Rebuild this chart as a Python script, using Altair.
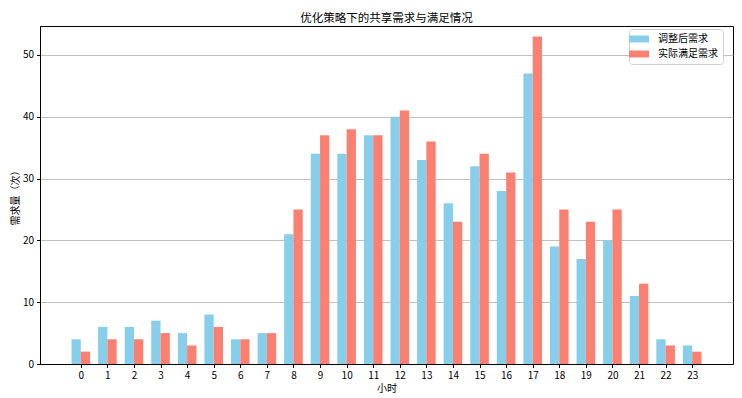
import altair as alt
import pandas as pd

hours = list(range(24))
adjusted = [4, 6, 6, 7, 5, 8, 4, 5, 21, 34, 34, 37, 40, 33, 26, 32, 28, 47, 19, 17, 20, 11, 4, 3]
satisfied = [2, 4, 4, 5, 3, 6, 4, 5, 25, 37, 38, 37, 41, 36, 23, 34, 31, 53, 25, 23, 25, 13, 3, 2]
series_names = ["调整后需求", "实际满足需求"]
series_colors = ["#87CEEB", "#FA8072"]
bar_w = 0.35

rows = []
for h, a, s in zip(hours, adjusted, satisfied):
    rows.append({"hour": h, "series": series_names[0], "value": a, "shift": -bar_w})
    rows.append({"hour": h, "series": series_names[1], "value": s, "shift": 0.0})
df = pd.DataFrame(rows)

FONT = "Noto Sans CJK SC"

chart = (
    alt.Chart(df)
    .transform_calculate(x0=f"datum.hour + datum.shift", x1=f"datum.hour + datum.shift + {bar_w}")
    .mark_rect()
    .encode(
        x=alt.X("x0:Q",
                scale=alt.Scale(domain=[-1.535, 24.535], nice=False, zero=False),
                axis=alt.Axis(values=hours, grid=False, title="小时", format="d")),
        x2="x1:Q",
        y=alt.Y("value:Q",
                scale=alt.Scale(domain=[0, 54.69], nice=False),
                axis=alt.Axis(values=[0, 10, 20, 30, 40, 50], grid=True, title="需求量（次）")),
        y2=alt.datum(0),
        color=alt.Color("series:N",
                        scale=alt.Scale(domain=series_names, range=series_colors),
                        legend=alt.Legend(title=None, orient="none", legendX=589, legendY=3,
                                          fillColor="white", strokeColor="#d0d0d0",
                                          cornerRadius=3, padding=5,
                                          symbolType="M-2,-0.7L2,-0.7L2,0.7L-2,0.7Z",
                                          symbolSize=100, symbolStrokeWidth=0,
                                          symbolOpacity=1,
                                          labelOffset=14, rowPadding=5,
                                          labelFontSize=10, labelFont=FONT,
                                          labelColor="black")),
    )
    .properties(
        width=693, height=338,
        title=alt.TitleParams("优化策略下的共享需求与满足情况", fontSize=11.5, font=FONT,
                              fontWeight="normal", color="black", offset=2, anchor="middle"),
        autosize=alt.AutoSizeParams(type="none"),
        padding={"left": 32, "top": 18, "right": 1, "bottom": 30},
    )
    .configure_view(stroke="black", strokeWidth=1)
    .configure_axis(
        domainColor="black", tickColor="black", tickSize=3.5,
        labelFont=FONT, labelFontSize=10, labelColor="black",
        titleFont=FONT, titleFontSize=10, titleFontWeight="normal", titleColor="black",
        gridColor="#b0b0b0", gridWidth=0.8,
    )
    .configure_axisX(labelPadding=3, titlePadding=3)
    .configure_axisY(labelPadding=3, titlePadding=2)
)

chart.save("out.html", embed_options={"renderer": "svg", "actions": False})
